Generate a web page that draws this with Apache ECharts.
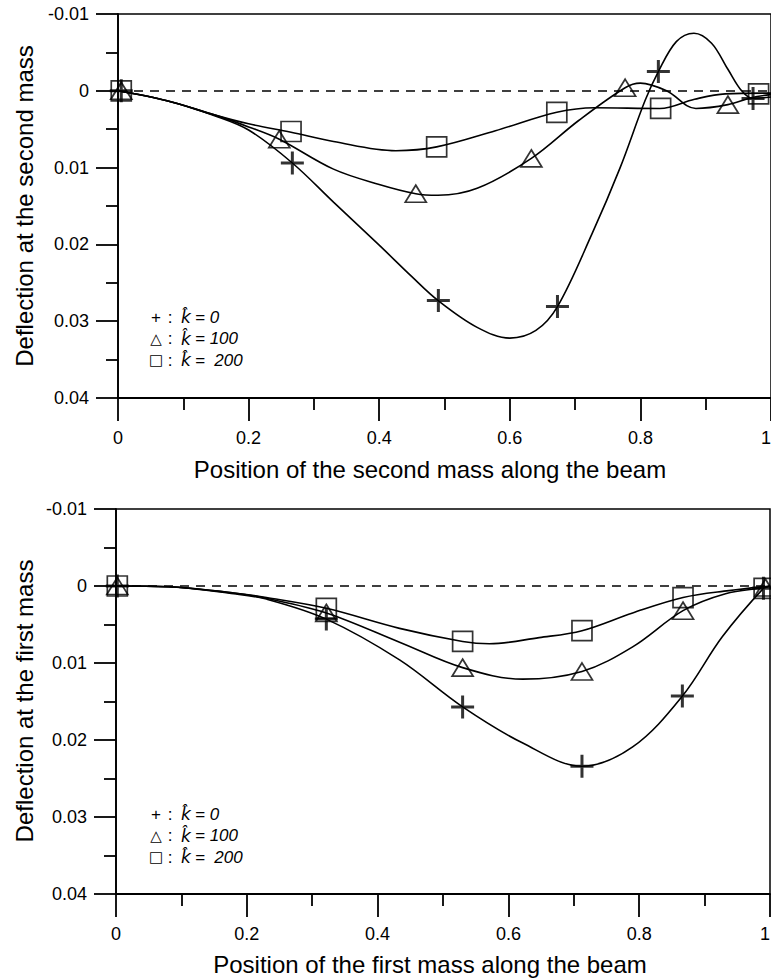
<!DOCTYPE html>
<html><head><meta charset="utf-8">
<script src="https://cdn.jsdelivr.net/npm/echarts@6/dist/echarts.min.js"></script>
<style>html,body{margin:0;padding:0;background:#fff;overflow:hidden}#c{width:771px;height:980px}</style>
</head><body><div id="c"></div>
<script>
// ---- tick labels ----
const xTickLabels = ['0', '0.2', '0.4', '0.6', '0.8', '1'];
const yTickLabels = ['-0.01', '0', '0.01', '0.02', '0.03', '0.04'];
const legendValues = ['0', '100', '\u00a0200'];
const legendSymbols = ['+', '\u25B3', '\u25A1'];
const panelXTitles = ['Position of the second mass along the beam', 'Position of the first mass along the beam'];
const panelYTitles = ['Deflection at the second mass', 'Deflection at the first mass'];

// ---- top panel (second mass) : curves ----
const topK0Curve = [[0,0],[0.075,0.0013],[0.15,0.0033],[0.2,0.0051],[0.267,0.0094],[0.33,0.0145],[0.40,0.0201],[0.45,0.0242],[0.49,0.0273],[0.55,0.0308],[0.60,0.0322],[0.64,0.0312],[0.673,0.0281],[0.726,0.0186],[0.769,0.0100],[0.807,0.0013],[0.8275,-0.0025],[0.855,-0.0064],[0.882,-0.0075],[0.909,-0.0062],[0.934,-0.0028],[0.955,0.0000],[0.9725,0.0010],[1.0,0.0008]];
const topK100Curve = [[0,0],[0.075,0.0013],[0.15,0.0032],[0.2,0.0047],[0.247,0.0063],[0.33,0.0102],[0.40,0.0122],[0.456,0.0134],[0.49,0.0136],[0.55,0.0127],[0.633,0.0088],[0.705,0.0039],[0.7766,-0.0004],[0.80,-0.0010],[0.84,0.0000],[0.885,0.0023],[0.934,0.0018],[0.97,0.0009],[1.0,0.0005]];
const topK200Curve = [[0,0],[0.075,0.0013],[0.15,0.0032],[0.2,0.0043],[0.265,0.0054],[0.33,0.0066],[0.4255,0.0078],[0.488,0.0073],[0.578,0.0052],[0.672,0.0028],[0.73,0.0022],[0.83,0.0023],[0.883,0.0011],[0.93,0.0004],[1.0,0.0003]];
// ---- top panel : markers ----
const topK0Marks = [[0.005,0],[0.267,0.0094],[0.4906,0.0273],[0.673,0.0281],[0.8275,-0.0025],[0.9725,0.0010]];
const topK100Marks = [[0.005,0],[0.247,0.0063],[0.456,0.0134],[0.633,0.0088],[0.7766,-0.0004],[0.934,0.0018]];
const topK200Marks = [[0.005,0],[0.265,0.0053],[0.488,0.0073],[0.672,0.0028],[0.831,0.0023],[0.981,0.0004]];

// ---- bottom panel (first mass) : curves ----
const botK0Curve = [[0,0],[0.08,0.0001],[0.18,0.0010],[0.23,0.0017],[0.3216,0.0043],[0.4336,0.0096],[0.53,0.0157],[0.622,0.0204],[0.7125,0.0234],[0.79,0.0209],[0.866,0.0143],[0.927,0.0066],[0.99,0.0003],[1,0]];
const botK100Curve = [[0,0],[0.08,0.0001],[0.18,0.0009],[0.23,0.0016],[0.3216,0.0035],[0.4336,0.0073],[0.53,0.0106],[0.622,0.0121],[0.7125,0.0111],[0.79,0.0079],[0.867,0.0032],[0.932,0.0010],[0.993,0.0002],[1,0]];
const botK200Curve = [[0,0],[0.08,0.0001],[0.18,0.0009],[0.23,0.0015],[0.3216,0.0029],[0.4336,0.0055],[0.53,0.0072],[0.571,0.0075],[0.647,0.0067],[0.7125,0.0058],[0.79,0.0035],[0.867,0.0015],[0.937,0.0006],[1,0]];
// ---- bottom panel : markers ----
const botK0Marks = [[0.002,0],[0.3216,0.0043],[0.53,0.0157],[0.7125,0.0234],[0.866,0.0143],[0.99,0.0003]];
const botK100Marks = [[0.002,0],[0.3216,0.0035],[0.53,0.0106],[0.7125,0.0111],[0.867,0.0032],[0.993,0.0002]];
const botK200Marks = [[0.002,0],[0.3216,0.0029],[0.53,0.0072],[0.7125,0.0058],[0.867,0.0015],[0.991,0.0003]];

const FONT = '"Liberation Sans", Arial, sans-serif';
const chart = echarts.init(document.getElementById('c'), null, {renderer: 'svg'});

function xAxisCfg(gi) {
  return {
    type: 'value', gridIndex: gi, min: 0, max: 1, interval: 0.2,
    axisLine: {show: true, onZero: false, lineStyle: {color: '#000', width: 1.8}},
    axisTick: {show: true, length: 23, lineStyle: {color: '#000', width: 1.8}},
    minorTick: {show: true, splitNumber: 2, length: 12, lineStyle: {color: '#000', width: 1.8}},
    splitLine: {show: false},
    axisLabel: {margin: 31, color: '#000', fontSize: 18, fontFamily: FONT, hideOverlap: false,
      alignMaxLabel: 'right',
      formatter: v => xTickLabels[Math.round(v / 0.2)]}
  };
}
function yAxisCfg(gi) {
  return {
    type: 'value', gridIndex: gi, min: -0.01, max: 0.04, interval: 0.01, inverse: true,
    axisLine: {show: true, onZero: false, lineStyle: {color: '#000', width: 1.8}},
    axisTick: {show: true, length: 22, lineStyle: {color: '#000', width: 1.8}},
    minorTick: {show: true, splitNumber: 2, length: 12, lineStyle: {color: '#000', width: 1.8}},
    splitLine: {show: false},
    axisLabel: {margin: 29, color: '#000', fontSize: 18, fontFamily: FONT,
      formatter: v => yTickLabels[Math.round((v + 0.01) / 0.01)]}
  };
}
function curve(data, gi, zeroLine) {
  const s = {type: 'line', xAxisIndex: gi, yAxisIndex: gi, data: data, smooth: 0.35,
    showSymbol: false, symbol: 'none', silent: true, z: 2,
    lineStyle: {color: '#000', width: 1.6}};
  if (zeroLine) {
    s.markLine = {silent: true, symbol: ['none', 'none'], label: {show: false},
      lineStyle: {color: '#000', type: [9, 7], width: 1.5}, data: [{yAxis: 0}]};
  }
  return s;
}
const PLUS = 'path://M10,0L10,20M0,10L20,10';
function marks(data, gi, kind) {
  const s = {type: 'scatter', xAxisIndex: gi, yAxisIndex: gi, data: data, silent: true, z: 3, clip: false};
  if (kind === 0) {
    s.symbol = PLUS; s.symbolSize = 23;
    s.itemStyle = {color: 'none', borderColor: '#000', borderWidth: 3};
  } else if (kind === 1) {
    s.symbol = 'triangle'; s.symbolSize = [21, 17];
    s.itemStyle = {color: 'rgba(0,0,0,0)', borderColor: '#000', borderWidth: 1.7};
  } else {
    s.symbol = 'rect'; s.symbolSize = [20, 20];
    s.itemStyle = {color: 'rgba(0,0,0,0)', borderColor: '#000', borderWidth: 1.7};
  }
  return s;
}

const grids = [
  {left: 118, top: 14, width: 653, height: 384},
  {left: 116, top: 509, width: 654, height: 385}
];
grids.forEach(g => { g.show = true; g.borderColor = '#000'; g.borderWidth = 1.5; g.backgroundColor = 'transparent'; g.outerBoundsMode = 'none'; g.containLabel = false; });

const graphic = [];
const xTitleY = [469, 964];
const xTitleX = [430, 430];
const yTitleY = [206, 701];
const legendTop = [317, 814];
for (let p = 0; p < 2; p++) {
  graphic.push({type: 'text', x: xTitleX[p], y: xTitleY[p], silent: true,
    style: {text: panelXTitles[p], fontSize: 24, fontFamily: FONT, fill: '#000', align: 'center', verticalAlign: 'middle'}});
  graphic.push({type: 'text', x: 24, y: yTitleY[p], rotation: Math.PI / 2, silent: true,
    style: {text: panelYTitles[p], fontSize: 24, fontFamily: FONT, fill: '#000', align: 'center', verticalAlign: 'middle'}});
  for (let i = 0; i < 3; i++) {
    const yy = legendTop[p] + i * 21.5;
    graphic.push({type: 'text', x: 156, y: yy, silent: true,
      style: {text: legendSymbols[i], fontSize: i === 0 ? 17 : 15, fontFamily: i === 0 ? FONT : '"DejaVu Sans", sans-serif', fill: '#000', align: 'center', verticalAlign: 'middle'}});
    graphic.push({type: 'text', x: 170, y: yy, silent: true,
      style: {text: ':', fontSize: 17, fontFamily: FONT, fill: '#000', align: 'center', verticalAlign: 'middle'}});
    graphic.push({type: 'text', x: 181, y: yy, silent: true,
      style: {text: 'k\u0302', fontSize: 17, fontStyle: 'italic', fontFamily: '"DejaVu Sans", sans-serif', fill: '#000', align: 'left', verticalAlign: 'middle'}});
    graphic.push({type: 'text', x: 195, y: yy, silent: true,
      style: {text: '= ' + legendValues[i], fontSize: 17, fontStyle: 'italic', fontFamily: FONT, fill: '#000', align: 'left', verticalAlign: 'middle'}});
  }
}

chart.setOption({
  animation: false,
  backgroundColor: '#fff',
  grid: grids,
  xAxis: [xAxisCfg(0), xAxisCfg(1)],
  yAxis: [yAxisCfg(0), yAxisCfg(1)],
  graphic: graphic,
  series: [
    curve(topK0Curve, 0, true), curve(topK100Curve, 0), curve(topK200Curve, 0),
    marks(topK0Marks, 0, 0), marks(topK100Marks, 0, 1), marks(topK200Marks, 0, 2),
    curve(botK0Curve, 1, true), curve(botK100Curve, 1), curve(botK200Curve, 1),
    marks(botK0Marks, 1, 0), marks(botK100Marks, 1, 1), marks(botK200Marks, 1, 2)
  ]
});
</script>
</body></html>
